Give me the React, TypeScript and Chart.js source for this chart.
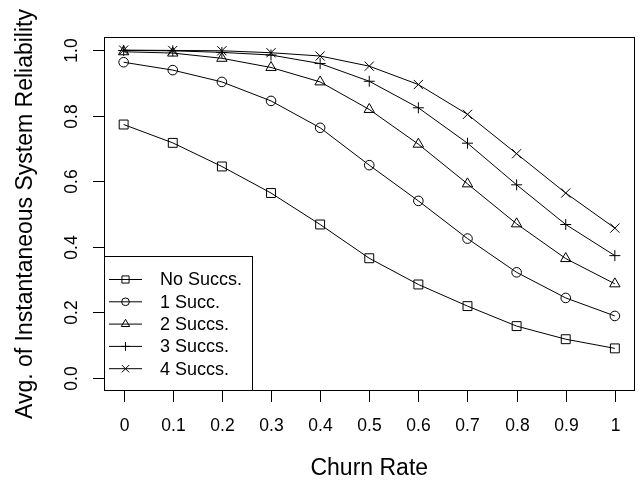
import React, { useEffect, useRef } from "react";
import { Chart, registerables } from "chart.js";
import { drawPoint } from "chart.js/helpers";

Chart.register(...registerables);

const churnRates = [0, 0.1, 0.2, 0.3, 0.4, 0.5, 0.6, 0.7, 0.8, 0.9, 1.0];
const xTickLabels = ["0", "0.1", "0.2", "0.3", "0.4", "0.5", "0.6", "0.7", "0.8", "0.9", "1"];
const yTickValues = [0, 0.2, 0.4, 0.6, 0.8, 1.0];
const yTickLabels = ["0.0", "0.2", "0.4", "0.6", "0.8", "1.0"];

const seriesNames = ["No Succs.", "1 Succ.", "2 Succs.", "3 Succs.", "4 Succs."];
const noSuccs = [0.773, 0.717, 0.645, 0.564, 0.468, 0.365, 0.285, 0.219, 0.158, 0.118, 0.09];
const oneSucc = [0.963, 0.939, 0.903, 0.845, 0.763, 0.649, 0.54, 0.425, 0.322, 0.244, 0.189];
const twoSuccs = [0.995, 0.991, 0.975, 0.947, 0.903, 0.819, 0.713, 0.592, 0.47, 0.364, 0.287];
const threeSuccs = [0.999, 0.998, 0.993, 0.985, 0.959, 0.905, 0.824, 0.716, 0.589, 0.468, 0.373];
const fourSuccs = [1.0, 0.999, 0.998, 0.992, 0.982, 0.951, 0.895, 0.804, 0.684, 0.564, 0.457];

const xTitle = "Churn Rate";
const yTitle = "Avg. of Instantaneous System Reliability";

const FONT = "'Liberation Sans', Arial, Helvetica, sans-serif";

const styles = [
  { pointStyle: "rect", radius: 6.3 },
  { pointStyle: "circle", radius: 4.8 },
  { pointStyle: "triangle", radius: 6 },
  { pointStyle: "cross", radius: 5.5 },
  { pointStyle: "crossRot", radius: 6.5 },
];

const allSeries = [noSuccs, oneSucc, twoSuccs, threeSuccs, fourSuccs];

const rPlugin = {
  id: "rstyle",
  afterDraw(chart: any) {
    const ctx = chart.ctx;
    const { left, right, top, bottom } = chart.chartArea;
    const xs = chart.scales.x;
    const ys = chart.scales.y;
    ctx.save();
    ctx.strokeStyle = "#000";
    ctx.lineWidth = 1;
    // box
    ctx.strokeRect(Math.round(left) + 0.5, Math.round(top) + 0.5, Math.round(right - left) - 1, Math.round(bottom - top) - 1);
    ctx.fillStyle = "#000";
    // x ticks
    ctx.font = `17.5px ${FONT}`;
    ctx.textAlign = "center";
    ctx.textBaseline = "middle";
    churnRates.forEach((v, i) => {
      const px = Math.round(xs.getPixelForValue(v)) + 0.5;
      ctx.beginPath();
      ctx.moveTo(px, bottom);
      ctx.lineTo(px, bottom + 11);
      ctx.stroke();
      ctx.fillText(xTickLabels[i], px, 426.5);
    });
    // y ticks
    yTickValues.forEach((v, i) => {
      const py = Math.round(ys.getPixelForValue(v)) + 0.5;
      ctx.beginPath();
      ctx.moveTo(left - 11, py);
      ctx.lineTo(left, py);
      ctx.stroke();
      ctx.save();
      ctx.translate(72, py);
      ctx.rotate(-Math.PI / 2);
      ctx.fillText(yTickLabels[i], 0, 0);
      ctx.restore();
    });
    // titles
    ctx.font = `23px ${FONT}`;
    ctx.fillText(xTitle, (left + right) / 2, 468.5);
    ctx.save();
    ctx.translate(25.5, (top + bottom) / 2);
    ctx.rotate(-Math.PI / 2);
    ctx.fillText(yTitle, 0, 0);
    ctx.restore();
    // legend
    const lx0 = Math.round(left) + 0.5;
    const ly0 = 256.5;
    const lx1 = 252.5;
    const ly1 = Math.round(bottom) - 0.5;
    ctx.fillStyle = "#fff";
    ctx.fillRect(lx0, ly0, lx1 - lx0, ly1 - ly0);
    ctx.strokeRect(lx0, ly0, lx1 - lx0, ly1 - ly0);
    ctx.font = `18px ${FONT}`;
    ctx.textAlign = "left";
    seriesNames.forEach((name, i) => {
      const y = 279.5 + i * 22.3;
      ctx.strokeStyle = "#000";
      ctx.beginPath();
      ctx.moveTo(109, y);
      ctx.lineTo(142, y);
      ctx.stroke();
      ctx.fillStyle = "rgba(0,0,0,0)";
      drawPoint(ctx, { pointStyle: styles[i].pointStyle, radius: styles[i].radius * 0.8, rotation: 0, borderWidth: 1 } as any, 125.5, y);
      ctx.fillStyle = "#000";
      ctx.fillText(name, 160, y + 1);
    });
    ctx.restore();
  },
};

export default function App() {
  const ref = useRef<HTMLCanvasElement | null>(null);
  useEffect(() => {
    document.body.style.margin = "0";
    const canvas = ref.current;
    if (!canvas) return;
    const chart = new Chart(canvas, {
      type: "line",
      data: {
        datasets: allSeries.map((vals, i) => ({
          label: seriesNames[i],
          data: churnRates.map((x, j) => ({ x, y: vals[j] })),
          borderColor: "#000",
          borderWidth: 1,
          backgroundColor: "rgba(0,0,0,0)",
          pointStyle: styles[i].pointStyle as any,
          pointRadius: styles[i].radius,
          pointBorderColor: "#000",
          pointBackgroundColor: "rgba(0,0,0,0)",
          pointBorderWidth: 1,
          tension: 0,
          fill: false,
        })),
      },
      options: {
        responsive: false,
        animation: false,
        devicePixelRatio: 1,
        layout: { padding: { top: 37, right: 5, left: 0, bottom: 0 } },
        plugins: { legend: { display: false }, tooltip: { enabled: false } },
        scales: {
          x: {
            type: "linear",
            min: -0.04,
            max: 1.04,
            ticks: { display: false },
            grid: { display: false },
            border: { display: false },
            afterFit: (s: any) => {
              s.height = 90;
            },
          },
          y: {
            type: "linear",
            min: -0.04,
            max: 1.04,
            ticks: { display: false },
            grid: { display: false },
            border: { display: false },
            afterFit: (s: any) => {
              s.width = 104;
            },
          },
        },
      },
      plugins: [rPlugin],
    });
    return () => chart.destroy();
  }, []);
  return <canvas ref={ref} width={642} height={481} style={{ display: "block" }} />;
}
